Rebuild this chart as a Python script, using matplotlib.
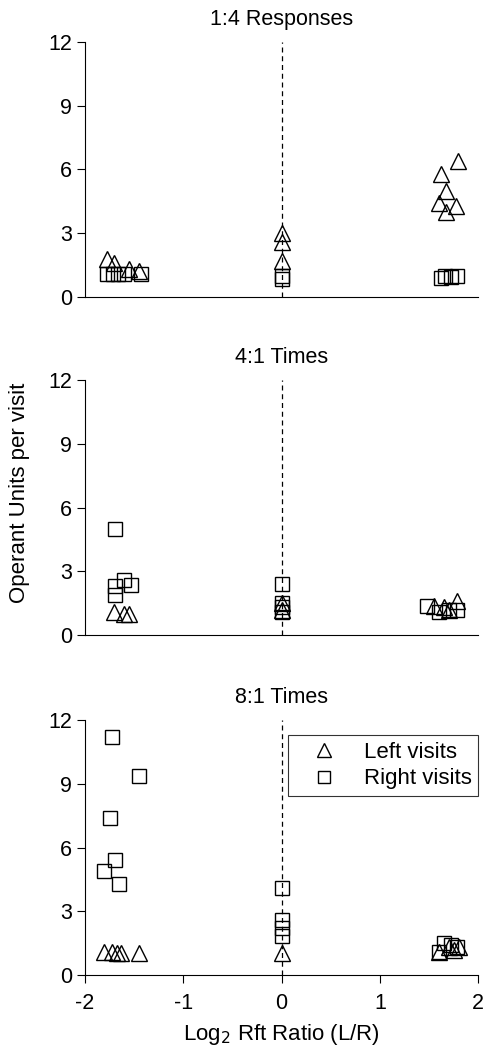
import matplotlib.pyplot as plt

plt.rcParams['font.family'] = ['Liberation Sans', 'DejaVu Sans']
plt.rcParams['axes.unicode_minus'] = False

titles = ['1:4 Responses', '4:1 Times', '8:1 Times']

# panel 1: 1:4 Responses
p1_left_x = [-1.78, -1.71, -1.55, -1.45, 0.0, 0.0, 0.0, 1.79, 1.62, 1.67, 1.60, 1.77, 1.67]
p1_left_y = [1.8, 1.6, 1.3, 1.2, 3.0, 2.6, 1.7, 6.4, 5.8, 5.0, 4.4, 4.3, 4.0]
p1_right_x = [-1.78, -1.72, -1.67, -1.60, -1.43, 0.0, 0.0, 1.62, 1.66, 1.72, 1.78]
p1_right_y = [1.1, 1.1, 1.1, 1.1, 1.1, 1.0, 0.85, 0.9, 1.0, 0.95, 1.0]

# panel 2: 4:1 Times
p2_left_x = [-1.71, -1.60, -1.55, 0.0, 0.0, 1.55, 1.65, 1.78, 1.70]
p2_left_y = [1.1, 1.0, 1.0, 1.5, 1.2, 1.35, 1.3, 1.6, 1.2]
p2_right_x = [-1.70, -1.70, -1.70, -1.60, -1.53, 0.0, 0.0, 0.0, 0.0, 1.48, 1.60, 1.70, 1.78]
p2_right_y = [5.0, 2.3, 1.9, 2.6, 2.35, 2.4, 1.5, 1.3, 1.1, 1.35, 1.1, 1.2, 1.2]

# panel 3: 8:1 Times
p3_left_x = [-1.81, -1.73, -1.68, -1.63, -1.45, 0.0, 1.60, 1.70, 1.80, 1.75]
p3_left_y = [1.1, 1.1, 1.05, 1.05, 1.05, 1.05, 1.1, 1.3, 1.3, 1.2]
p3_right_x = [-1.73, -1.45, -1.75, -1.70, -1.81, -1.65, 0.0, 0.0, 0.0, 0.0, 1.60, 1.65, 1.72, 1.78]
p3_right_y = [11.2, 9.35, 7.4, 5.4, 4.9, 4.3, 4.1, 2.6, 2.2, 1.85, 1.1, 1.5, 1.4, 1.3]

lefts = [(p1_left_x, p1_left_y), (p2_left_x, p2_left_y), (p3_left_x, p3_left_y)]
rights = [(p1_right_x, p1_right_y), (p2_right_x, p2_right_y), (p3_right_x, p3_right_y)]

FS = 15.5

fig = plt.figure(figsize=(4.89, 10.55), dpi=100)
boxes = [0.7185, 0.398, 0.0758]
axes = []
for i in range(3):
    ax = fig.add_axes([0.174, boxes[i], 0.804, 0.2417])
    axes.append(ax)
    ax.axvline(0, color='black', ls=(0, (4, 3)), lw=0.9, zorder=1)
    lx, ly = lefts[i]
    rx, ry = rights[i]
    ax.plot(lx, ly, ls='none', marker='^', ms=11.5, mfc='none', mec='black',
            mew=1.0, label='Left visits', zorder=3)
    ax.plot(rx, ry, ls='none', marker='s', ms=9.5, mfc='none', mec='black',
            mew=1.0, label='Right visits', zorder=3)
    ax.set_xlim(-2, 2)
    ax.set_ylim(0, 12)
    ax.set_yticks([0, 3, 6, 9, 12])
    ax.spines['top'].set_visible(False)
    ax.spines['right'].set_visible(False)
    ax.tick_params(axis='y', direction='out', length=6, labelsize=FS)
    ax.set_title(titles[i], fontsize=FS, pad=12)
    if i < 2:
        ax.set_xticks([])
    else:
        ax.set_xticks([-2, -1, 0, 1, 2])
        ax.tick_params(axis='x', direction='out', length=6, pad=7, labelsize=FS)
        ax.set_xlabel('Log$_2$ Rft Ratio (L/R)', fontsize=16, labelpad=6)

axes[1].set_ylabel('Operant Units per visit', fontsize=16)
axes[1].yaxis.set_label_coords(-0.14, 0.557)
leg = axes[2].legend(loc='upper right', fontsize=16, frameon=True, fancybox=False,
                     edgecolor='black', handletextpad=0.5, borderpad=0.3,
                     labelspacing=0.25, handlelength=2.6, markerscale=0.85,
                     borderaxespad=0, bbox_to_anchor=(1.0, 0.941))
leg.get_frame().set_linewidth(0.8)

fig.savefig('out.png', dpi=100)
